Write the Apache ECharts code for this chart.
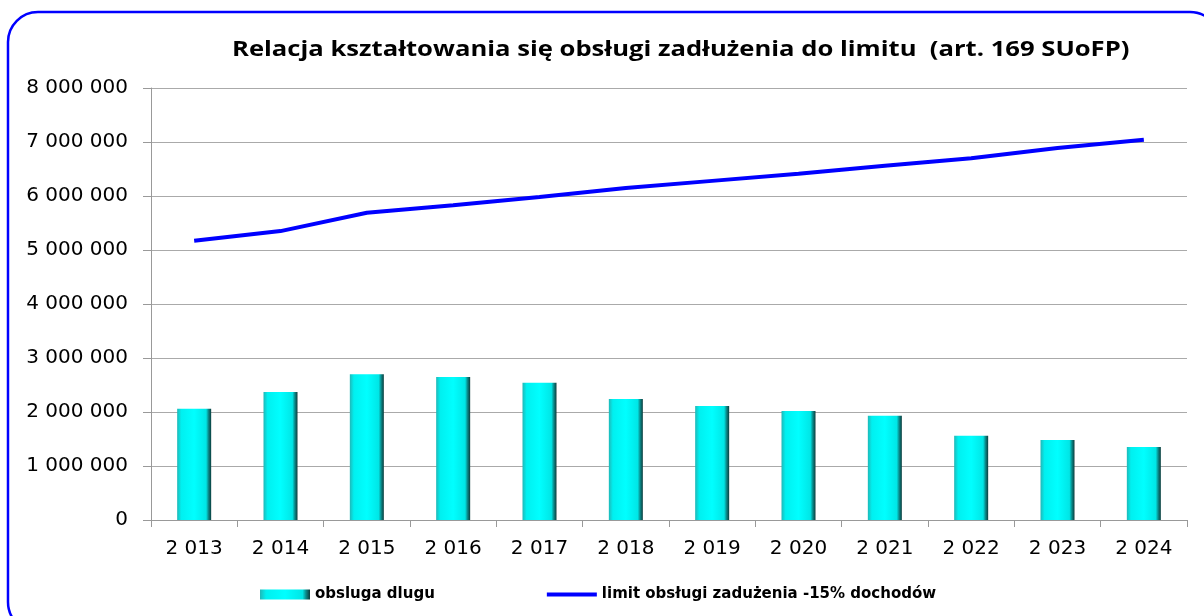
<!DOCTYPE html>
<html>
<head>
<meta charset="utf-8">
<script src="https://cdn.jsdelivr.net/npm/echarts@6/dist/echarts.min.js"></script>
<style>
  html, body { margin: 0; padding: 0; background: #fff; }
  #chart { width: 1204px; height: 616px; }
</style>
</head>
<body>
<div id="chart"></div>
<script>
var years = ['2013', '2014', '2015', '2016', '2017', '2018', '2019', '2020', '2021', '2022', '2023', '2024'];
var obslugaDlugu = [2060000, 2370000, 2700000, 2650000, 2540000, 2240000, 2110000, 2020000, 1930000, 1560000, 1480000, 1350000];
var limitObslugi = [5170000, 5350000, 5690000, 5830000, 5980000, 6150000, 6280000, 6410000, 6560000, 6700000, 6890000, 7040000];
var seriesNames = ['obsluga dlugu', 'limit obsługi zadużenia -15% dochodów'];
var titleText = 'Relacja kształtowania się obsługi zadłużenia do limitu  (art. 169 SUoFP)';

// format with space as thousands separator, like "8 000 000"
function spaced(v) {
  return String(v).replace(/\B(?=(\d{3})+(?!\d))/g, ' ');
}

var chartDom = document.getElementById('chart');
var myChart = echarts.init(chartDom);

var barColor = new echarts.graphic.LinearGradient(0, 0, 1, 0, [
  { offset: 0, color: '#1fb8b8' },
  { offset: 0.12, color: '#00f0f0' },
  { offset: 0.5, color: '#00ffff' },
  { offset: 0.85, color: '#00e6e6' },
  { offset: 0.92, color: '#0a8a8a' },
  { offset: 1, color: '#0b3c3c' }
]);

var axisFont = 'DejaVu Sans';

var option = {
  textStyle: { fontFamily: axisFont },
  graphic: [
    {
      type: 'rect',
      shape: { x: 8, y: 12, width: 1212, height: 620, r: 30 },
      style: { fill: 'none', stroke: '#0000ff', lineWidth: 2.5 },
      silent: true,
      z: -1
    },
    {
      // title, stretched sideways like the original picture
      type: 'text',
      x: 232,
      y: 50,
      scaleX: 1.22,
      style: {
        text: titleText,
        x: 0,
        y: 0,
        fill: '#000',
        font: 'bold 21px "Open Sans"',
        verticalAlign: 'middle'
      },
      silent: true
    }
  ],
  grid: { left: 151, right: 17, top: 88, bottom: 96 },
  legend: {
    bottom: 9,
    left: 255,
    itemGap: 112,
    itemWidth: 50,
    itemHeight: 10,
    textStyle: { fontFamily: axisFont, fontSize: 15, fontWeight: 'bold', color: '#000' },
    data: [
      { name: seriesNames[0], icon: 'rect', itemStyle: { color: barColor } },
      { name: seriesNames[1], icon: 'path://M0,0 L50,0 L50,4 L0,4 Z', itemStyle: { color: '#0000ff' } }
    ]
  },
  xAxis: {
    type: 'category',
    data: years,
    boundaryGap: true,
    axisLine: { lineStyle: { color: '#999' } },
    axisTick: { show: true, length: 7, lineStyle: { color: '#999' } },
    axisLabel: {
      margin: 19,
      fontSize: 20,
      color: '#000',
      fontFamily: axisFont,
      formatter: function (v) { return v.charAt(0) + ' ' + v.slice(1); }
    }
  },
  yAxis: {
    type: 'value',
    min: 0,
    max: 8000000,
    interval: 1000000,
    axisLine: { show: true, lineStyle: { color: '#999' } },
    axisTick: { show: true, length: 8, lineStyle: { color: '#999' } },
    splitLine: { lineStyle: { color: '#aaa', width: 1 } },
    axisLabel: {
      margin: 23,
      fontSize: 20,
      color: '#000',
      fontFamily: axisFont,
      formatter: function (v) { return spaced(v); }
    }
  },
  series: [
    {
      name: seriesNames[0],
      type: 'bar',
      data: obslugaDlugu,
      barWidth: 34,
      itemStyle: { color: barColor }
    },
    {
      name: seriesNames[1],
      type: 'line',
      data: limitObslugi,
      symbol: 'none',
      lineStyle: { color: '#0000ff', width: 4 },
      itemStyle: { color: '#0000ff' }
    }
  ]
};

option && myChart.setOption(option);
</script>
</body>
</html>
